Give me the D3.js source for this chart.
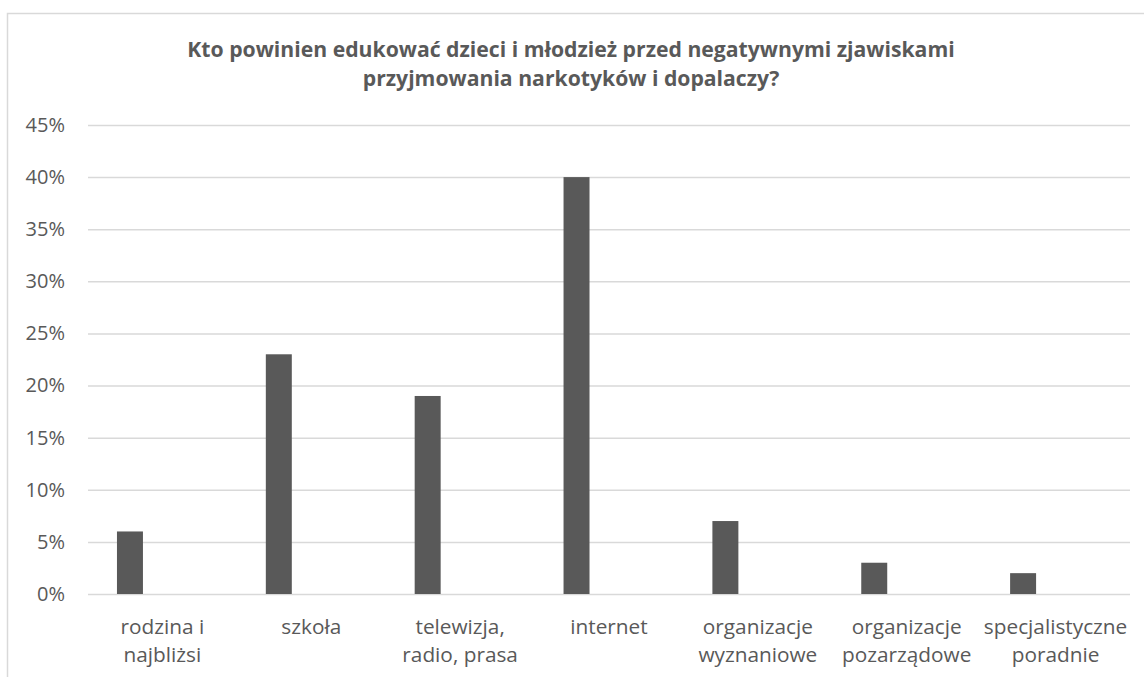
<html>
<head>
<meta charset="utf-8">
<style>
  body { margin: 0; background: #fff; }
  text { font-family: "Open Sans", Lato, sans-serif; fill: #595959; }
</style>
<script src="https://cdn.jsdelivr.net/npm/d3@7"></script>
</head>
<body>
<div id="chart"></div>
<script>
var titleLines = ["Kto powinien edukować dzieci i młodzież przed negatywnymi zjawiskami",
                  "przyjmowania narkotyków i dopalaczy?"];
var categories = [["rodzina i", "najbliżsi"], ["szkoła"], ["telewizja,", "radio, prasa"],
                  ["internet"], ["organizacje", "wyznaniowe"], ["organizacje", "pozarządowe"],
                  ["specjalistyczne", "poradnie"]];
var values = [0.06, 0.23, 0.19, 0.40, 0.07, 0.03, 0.02];
var series = ["odpowiedzi", "puste"];
var yTicks = [0, 0.05, 0.10, 0.15, 0.20, 0.25, 0.30, 0.35, 0.40, 0.45];

function drawChart(id, width, height) {
    var svg = d3.select(id).append("svg")
        .attr("width", width)
        .attr("height", height);

    // chart frame (right and bottom edges fall outside the picture)
    svg.append("rect")
        .attr("x", 7.5).attr("y", 13.5)
        .attr("width", width + 20).attr("height", height + 20)
        .attr("fill", "none")
        .attr("stroke", "#d9d9d9")
        .attr("stroke-width", 1.5);

    var left = 88, right = 1130, top = 125, bottom = 594;

    var y = d3.scaleLinear().domain([0, 0.45]).range([bottom, top]);
    var x0 = d3.scaleBand().domain(d3.range(categories.length)).range([left, right]);
    var x1 = d3.scaleBand().domain(series).range([0, x0.bandwidth()])
        .paddingInner(0.6).paddingOuter(0.446);

    var yAxis = d3.axisLeft(y)
        .tickValues(yTicks)
        .tickSize(-(right - left))
        .tickPadding(23)
        .tickFormat(d3.format(".0%"));

    var ga = svg.append("g")
        .attr("transform", "translate(" + left + ",0)")
        .call(yAxis);
    ga.select(".domain").remove();
    ga.selectAll(".tick line").attr("stroke", "#d9d9d9").attr("stroke-width", 1.5);
    ga.selectAll(".tick text").style("font-size", "20px").attr("fill", "#595959")
        .style("font-family", "'Open Sans', sans-serif");

    svg.append("g").selectAll("rect")
        .data(values)
      .enter().append("rect")
        .attr("x", function(d, i) { return x0(i) + x1("odpowiedzi"); })
        .attr("y", function(d) { return y(d); })
        .attr("width", x1.bandwidth())
        .attr("height", function(d) { return y(0) - y(d); })
        .attr("fill", "#595959");

    var labels = svg.append("g").selectAll("text")
        .data(categories)
      .enter().append("text")
        .attr("x", function(d, i) { return x0(i) + x0.bandwidth() / 2; })
        .attr("y", 634)
        .attr("text-anchor", "middle")
        .style("font-size", "20.8px");
    labels.selectAll("tspan")
        .data(function(d) { return d; })
      .enter().append("tspan")
        .attr("x", function() { return this.parentNode.getAttribute("x"); })
        .attr("dy", function(d, i) { return i === 0 ? 0 : 28; })
        .text(function(d) { return d; });

    svg.append("g").selectAll("text")
        .data(titleLines)
      .enter().append("text")
        .attr("x", 571)
        .attr("y", function(d, i) { return 57 + i * 29; })
        .attr("text-anchor", "middle")
        .style("font-size", "21.2px")
        .style("font-weight", "bold")
        .text(function(d) { return d; });
}

drawChart("#chart", 1144, 677);
</script>
</body>
</html>
